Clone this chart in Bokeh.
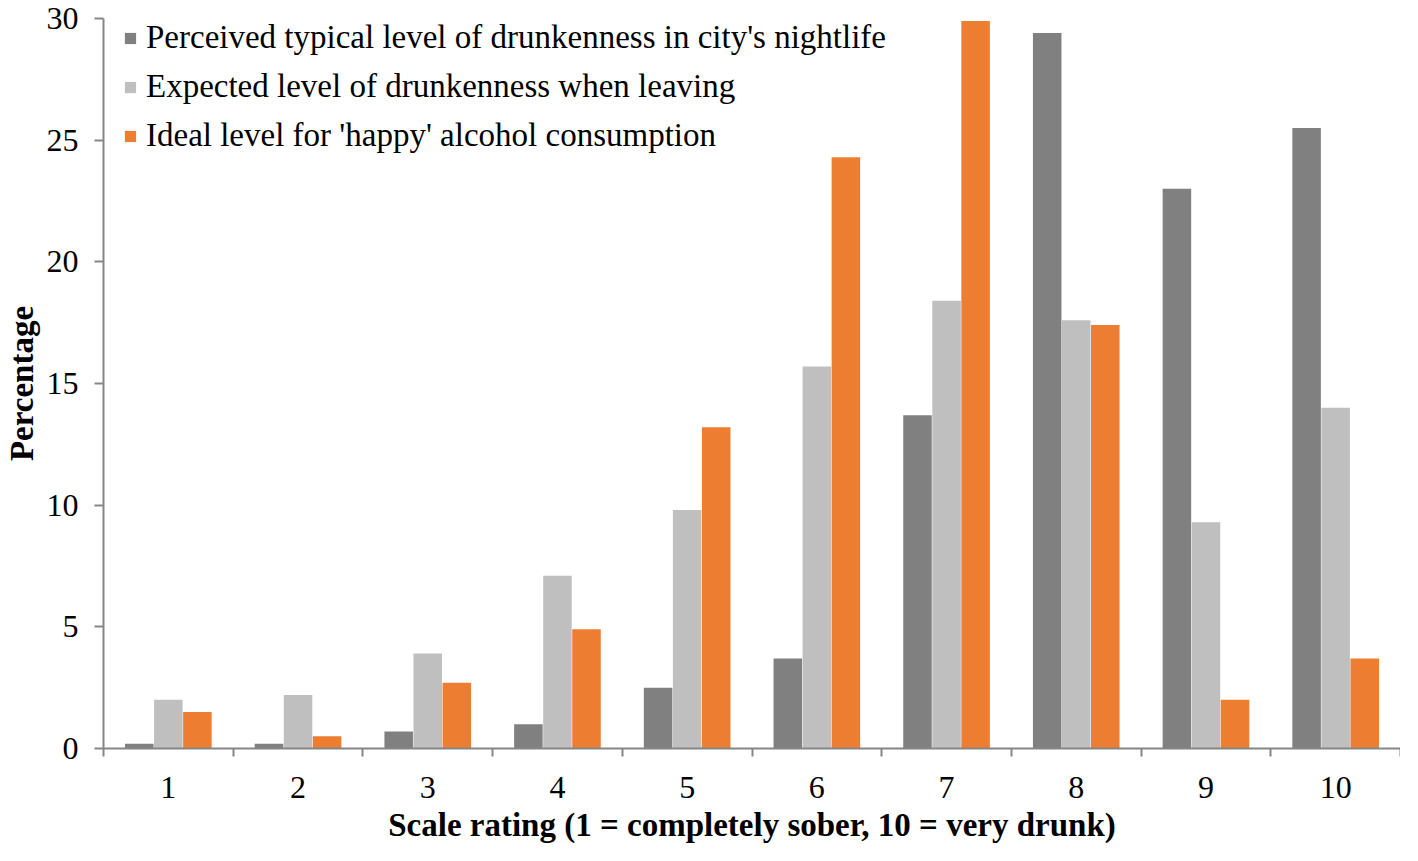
from bokeh.plotting import figure
from bokeh.models import ColumnDataSource, FixedTicker, Range1d, Legend, LegendItem
from bokeh.transform import dodge
from bokeh.embed import file_html
from bokeh.resources import INLINE

ratings = [1, 2, 3, 4, 5, 6, 7, 8, 9, 10]
perceived = [0.2, 0.2, 0.7, 1.0, 2.5, 3.7, 13.7, 29.4, 23.0, 25.5]
expected = [2.0, 2.2, 3.9, 7.1, 9.8, 15.7, 18.4, 17.6, 9.3, 14.0]
ideal = [1.5, 0.5, 2.7, 4.9, 13.2, 24.3, 29.9, 17.4, 2.0, 3.7]
series_names = [
    "Perceived typical level of drunkenness in city's nightlife",
    "Expected level of drunkenness when leaving",
    "Ideal level for 'happy' alcohol consumption",
]
colors = ["#808080", "#bfbfbf", "#ed7d31"]
y_ticks = [0, 5, 10, 15, 20, 25, 30]

src = ColumnDataSource(dict(x=ratings, perceived=perceived, expected=expected, ideal=ideal))

FONT = "Liberation Serif"

p = figure(width=1400, height=845, output_backend="svg", toolbar_location=None,
           x_range=Range1d(0.5, 10.5), y_range=Range1d(0, 30),
           min_border_left=97, min_border_right=0, min_border_top=18, min_border_bottom=97)
p.outline_line_color = None
p.xgrid.visible = False
p.ygrid.visible = False
p.background_fill_color = "white"

bw = 0.22
r1 = p.vbar(x=dodge("x", -0.224, range=p.x_range), top="perceived", width=bw, source=src,
            fill_color=colors[0], line_color=None)
r2 = p.vbar(x=dodge("x", 0.0, range=p.x_range), top="expected", width=bw, source=src,
            fill_color=colors[1], line_color=None)
r3 = p.vbar(x=dodge("x", 0.224, range=p.x_range), top="ideal", width=bw, source=src,
            fill_color=colors[2], line_color=None)

axis_color = "#868686"

# x axis
p.xaxis.ticker = FixedTicker(ticks=ratings, minor_ticks=[r - 0.5 for r in ratings] + [10.5])
p.xaxis.major_tick_line_color = None
p.xaxis.major_tick_out = 8
p.xaxis.major_tick_in = 0
p.xaxis.minor_tick_out = 8
p.xaxis.minor_tick_in = 0
p.xaxis.minor_tick_line_color = axis_color
p.xaxis.minor_tick_line_width = 2
p.xaxis.axis_line_color = axis_color
p.xaxis.axis_line_width = 2
p.xaxis.major_label_text_font = FONT
p.xaxis.major_label_text_font_size = "32px"
p.xaxis.major_label_text_color = "black"
p.xaxis.major_label_standoff = 20
p.xaxis.axis_label = "Scale rating (1 = completely sober, 10 = very drunk)"
p.xaxis.axis_label_text_font = FONT
p.xaxis.axis_label_text_font_size = "33px"
p.xaxis.axis_label_text_font_style = "bold"
p.xaxis.axis_label_text_color = "black"
p.xaxis.axis_label_standoff = 6

# y axis
p.yaxis.ticker = FixedTicker(ticks=y_ticks, minor_ticks=[])
p.yaxis.major_tick_out = 9
p.yaxis.major_tick_in = 0
p.yaxis.major_tick_line_color = axis_color
p.yaxis.major_tick_line_width = 2
p.yaxis.axis_line_color = axis_color
p.yaxis.axis_line_width = 2
p.yaxis.major_label_text_font = FONT
p.yaxis.major_label_text_font_size = "32px"
p.yaxis.major_label_text_color = "black"
p.yaxis.major_label_standoff = 16
p.yaxis.axis_label = "Percentage"
p.yaxis.axis_label_text_font = FONT
p.yaxis.axis_label_text_font_size = "33px"
p.yaxis.axis_label_text_font_style = "bold"
p.yaxis.axis_label_text_color = "black"
p.yaxis.axis_label_standoff = 4

legend = Legend(items=[LegendItem(label=series_names[0], renderers=[r1]),
                       LegendItem(label=series_names[1], renderers=[r2]),
                       LegendItem(label=series_names[2], renderers=[r3])],
                location=(20, 594))
legend.label_text_font = FONT
legend.label_text_font_size = "33px"
legend.label_text_color = "black"
legend.glyph_width = 14
legend.glyph_height = 14
legend.label_standoff = 9
legend.spacing = 12
legend.padding = 0
legend.margin = 0
legend.border_line_color = None
legend.background_fill_alpha = 0
p.add_layout(legend)

open("out.html", "w").write(file_html(p, INLINE))
